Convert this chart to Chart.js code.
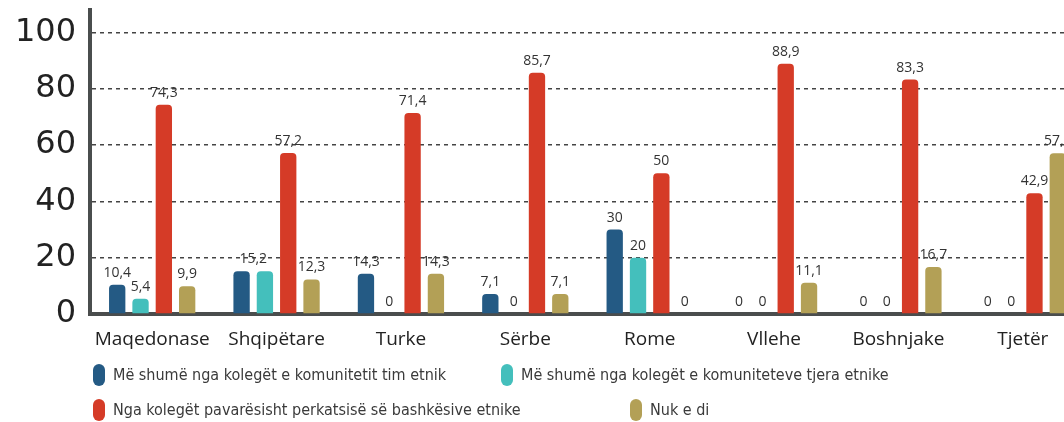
<!DOCTYPE html>
<html lang="sq">
<head>
    <meta charset="UTF-8">
    <title>Bashkëpunimi sipas komunitetit</title>
    <script src="https://cdn.jsdelivr.net/npm/chart.js@4"></script>
    <style>
        html, body { margin: 0; padding: 0; background: #fff; overflow: hidden; }
        #wrap { position: relative; width: 1064px; height: 422px; overflow: hidden; }
        #myChart { position: absolute; left: 0; top: 0; }
        .lg { position: absolute; font-family: "Liberation Sans Narrow", "DejaVu Sans Condensed", sans-serif;
              font-size: 16px; color: #3a3a3a; white-space: nowrap; line-height: 22px; }
        .lg i { position: absolute; left: -20px; top: 0; width: 12px; height: 22px; border-radius: 6px; }
    </style>
</head>
<body>
<div id="wrap">
    <canvas id="myChart" width="1090" height="422"></canvas>
    <div class="lg" style="left:113px;top:364px"><i style="background:#245a84"></i>Më shumë nga kolegët e komunitetit tim etnik</div>
    <div class="lg" style="left:521px;top:364px"><i style="background:#44bfbc"></i>Më shumë nga kolegët e komuniteteve tjera etnike</div>
    <div class="lg" style="left:113px;top:399px"><i style="background:#d53b27"></i>Nga kolegët pavarësisht perkatsisë së bashkësive etnike</div>
    <div class="lg" style="left:650px;top:399px"><i style="background:#b3a056"></i>Nuk e di</div>
</div>
<script>
    const categories = ['Maqedonase', 'Shqipëtare', 'Turke', 'Sërbe', 'Rome', 'Vllehe', 'Boshnjake', 'Tjetër'];
    const ownCommunity = [10.4, 15.2, 14.3, 7.1, 30, 0, 0, 0];
    const otherCommunities = [5.4, 15.2, 0, 0, 20, 0, 0, 0];
    const regardless = [74.3, 57.2, 71.4, 85.7, 50, 88.9, 83.3, 42.9];
    const dontKnow = [9.9, 12.3, 14.3, 7.1, 0, 11.1, 16.7, 57.1];
    const yTicks = [0, 20, 40, 60, 80, 100];

    // equal neighbouring values that share one label in the original (category index)
    const sharedLabel = [1];

    const valueLabels = {
        id: 'valueLabels',
        afterDatasetsDraw(chart) {
            const ctx = chart.ctx;
            ctx.save();
            ctx.font = '14px "Open Sans", sans-serif';
            ctx.fillStyle = '#333';
            ctx.textAlign = 'center';
            ctx.textBaseline = 'bottom';
            chart.data.datasets.forEach((ds, i) => {
                chart.getDatasetMeta(i).data.forEach((bar, j) => {
                    const txt = String(ds.data[j]).replace('.', ',');
                    if (sharedLabel.includes(j) && i < 2) {
                        if (i === 1) return;
                        const next = chart.getDatasetMeta(1).data[j];
                        ctx.fillText(txt, (bar.x + next.x) / 2, bar.y - 5);
                        return;
                    }
                    ctx.fillText(txt, bar.x, bar.y - 5);
                });
            });
            ctx.restore();
        }
    };

    const mkSet = (label, data, color) => ({
        label, data,
        backgroundColor: color,
        borderRadius: { topLeft: 4, topRight: 4 },
        borderSkipped: 'bottom',
        barPercentage: 0.7,
        categoryPercentage: 0.75
    });

    new Chart(document.getElementById('myChart').getContext('2d'), {
        type: 'bar',
        data: {
            labels: categories,
            datasets: [
                mkSet('Më shumë nga kolegët e komunitetit tim etnik', ownCommunity, '#245a84'),
                mkSet('Më shumë nga kolegët e komuniteteve tjera etnike', otherCommunities, '#44bfbc'),
                mkSet('Nga kolegët pavarësisht perkatsisë së bashkësive etnike', regardless, '#d53b27'),
                mkSet('Nuk e di', dontKnow, '#b3a056')
            ]
        },
        options: {
            responsive: false,
            animation: false,
            layout: { padding: { top: 10, right: 5, bottom: 68, left: 0 } },
            plugins: { legend: { display: false }, tooltip: { enabled: false } },
            scales: {
                x: {
                    grid: { display: false },
                    border: { display: true, color: '#4a4d4d', width: 4 },
                    ticks: { color: '#222', font: { family: 'Open Sans', size: 19 }, padding: 6 },
                    afterFit(scale) { scale.height = 40; }
                },
                y: {
                    min: 0,
                    max: 108,
                    afterBuildTicks(scale) { scale.ticks = yTicks.map(v => ({ value: v })); },
                    grid: {
                        color: ctx => ctx.tick && ctx.tick.value === 0 ? 'rgba(0,0,0,0)' : '#444',
                        lineWidth: 1.5,
                        drawTicks: false
                    },
                    border: { display: true, color: '#4a4d4d', width: 4, dash: [4, 4], dashOffset: 0 },
                    ticks: { color: '#222', font: { family: 'DejaVu Sans', size: 32 }, padding: 14 },
                    afterFit(scale) {
                        scale.width = 90;
                        scale.paddingTop = 0;
                        scale.paddingBottom = 0;
                    }
                }
            }
        },
        plugins: [valueLabels]
    });
</script>
</body>
</html>
